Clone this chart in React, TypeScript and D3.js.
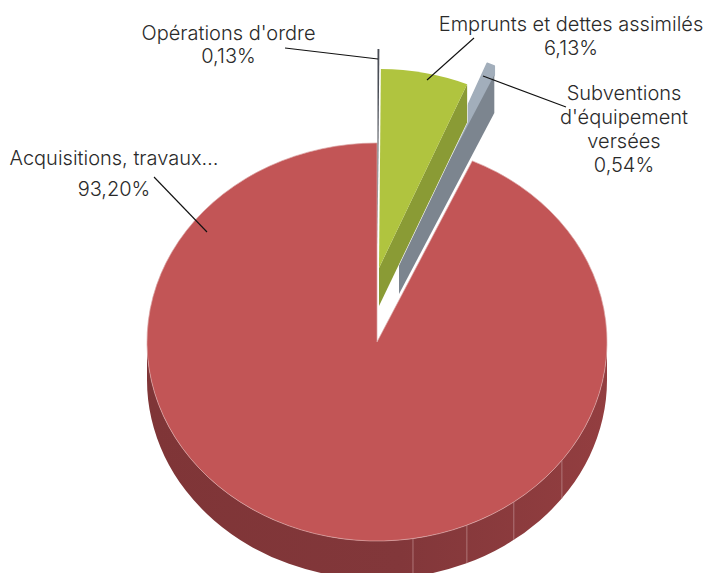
import React from "react";
import * as d3 from "d3";

// values in percent, clockwise from 12 o'clock
const categories = ["Opérations d'ordre", "Emprunts et dettes assimilés", "Subventions d'équipement versées", "Acquisitions, travaux…"];
const values = [0.13, 6.13, 0.54, 93.2];
const valueLabels = ["0,13%", "6,13%", "0,54%", "93,20%"];
const labelLines = [
  ["Opérations d'ordre", "0,13%"],
  ["Emprunts et dettes assimilés", "6,13%"],
  ["Subventions", "d'équipement", "versées", "0,54%"],
  ["Acquisitions, travaux…", "93,20%"],
];
const topColors = ["#4a4e57", "#b0c43f", "#a2aebb", "#c25556"];
const sideColors = ["#4a4e57", "#8a9b35", "#7c858f", "#87393b"];

// layout
const width = 707;
const height = 573;
const cx = 377;
const cy = 342;
const rx = 230;
const ry = 199;
const depth = 38;
const tipRise = 9;
const explode = [[0.5, -94], [2, -74], [22, -86], [0, 0]];
const labelPos = [
  { x: 228.5, y: [40, 63] },
  { x: 571, y: [31, 55] },
  { x: 624, y: [100, 124, 148, 172] },
  { x: 114, y: [165, 196] },
];
const leaders = [
  [[285, 48], [378, 59]],
  [[474, 38], [427, 80]],
  [[483, 76], [566, 107]],
  [[154, 177], [207, 232]],
];
// facet seams on the red wall, degrees
const seamAngles = [171, 157, 143.5, 126.5];

const rad = (d: number) => (d * Math.PI) / 180;

const arcs = d3.pie<number>().sort(null).startAngle(0).endAngle(2 * Math.PI)(values);
const arcGen = d3.arc<d3.PieArcDatum<number>>().innerRadius(0).outerRadius(100);

// point on the tilted ellipse
const pt = (a: number, i: number, dy = 0): [number, number] => [
  cx + explode[i][0] + rx * Math.sin(a),
  cy + explode[i][1] + dy - ry * Math.cos(a),
];
const apex = (i: number, dy = 0): [number, number] => [cx + explode[i][0], cy + explode[i][1] + dy];

const line = d3.line();

function rimWall(i: number, a0: number, a1: number) {
  const s = pt(a0, i);
  const e = pt(a1, i);
  return `M${s} A${rx} ${ry} 0 0 1 ${e} L${pt(a1, i, depth)} A${rx} ${ry} 0 0 0 ${pt(a0, i, depth)} Z`;
}

export default function App() {
  const red = arcs[3];
  const grey = arcs[2];
  // the thin grey slice has a rounded tip that rises above its rim
  const greyTip = d3.polygonHull([
    apex(2),
    pt(grey.startAngle, 2, -tipRise),
    pt(grey.endAngle, 2, -tipRise),
    pt(grey.endAngle, 2),
  ]) as [number, number][];
  return (
    <svg
      width={width}
      height={height}
      viewBox={`0 0 ${width} ${height}`}
      style={{ position: "absolute", left: 0, top: 0, display: "block", background: "#fff" }}
    >
      <defs>
        <linearGradient id="redWall" x1="0" x2="1" y1="0" y2="0">
          <stop offset="0" stopColor="#7f3537" />
          <stop offset="0.55" stopColor="#82373a" />
          <stop offset="1" stopColor="#933e40" />
        </linearGradient>
      </defs>

      {/* big slice */}
      <path d={rimWall(3, rad(90), rad(270))} fill="url(#redWall)" />
      {seamAngles.map((d) => (
        <line
          key={d}
          x1={pt(rad(d), 3)[0]}
          x2={pt(rad(d), 3)[0]}
          y1={pt(rad(d), 3)[1]}
          y2={pt(rad(d), 3, depth)[1]}
          stroke="#b98486"
          strokeWidth={0.8}
        />
      ))}
      <path
        d={arcGen(red) as string}
        transform={`translate(${cx},${cy}) scale(${rx / 100},${ry / 100})`}
        fill={topColors[3]}
        stroke="#dba5a5"
        strokeWidth={0.7}
        vectorEffect="non-scaling-stroke"
      />

      {/* exploded slices */}
      {[2, 1, 0].map((i) => {
        const a = arcs[i];
        const face = [apex(i), pt(a.endAngle, i), pt(a.endAngle, i, depth), apex(i, depth)] as [number, number][];
        return (
          <g key={categories[i]}>
            {i === 2 && (
              <path
                d={(line(greyTip) as string) + "Z"}
                fill={topColors[i]}
                stroke={topColors[i]}
                strokeWidth={1.5}
                strokeLinejoin="round"
              />
            )}
            {i > 0 && (
              <path
                d={(line(face) as string) + "Z"}
                fill={sideColors[i]}
                stroke="#fff"
                strokeWidth={i === 2 ? 0 : 1.2}
                paintOrder="stroke"
              />
            )}
            {i !== 2 && (
              <path
                d={arcGen(a) as string}
                transform={`translate(${apex(i)[0]},${apex(i)[1]}) scale(${rx / 100},${ry / 100})`}
                fill={topColors[i]}
              />
            )}
          </g>
        );
      })}

      {leaders.map((l, i) => (
        <path key={i} d={line(l as [number, number][]) as string} fill="none" stroke="#111" strokeWidth={1.1} />
      ))}

      <g fontFamily="Inter, 'Liberation Sans', sans-serif" fontWeight={300} fontSize={20} fill="#2a2a2a" textAnchor="middle">
        {labelLines.map((lines, i) => (
          <text key={valueLabels[i]} x={labelPos[i].x}>
            {lines.map((t, j) => (
              <tspan key={j} x={labelPos[i].x} y={labelPos[i].y[j]}>
                {t}
              </tspan>
            ))}
          </text>
        ))}
      </g>
    </svg>
  );
}
